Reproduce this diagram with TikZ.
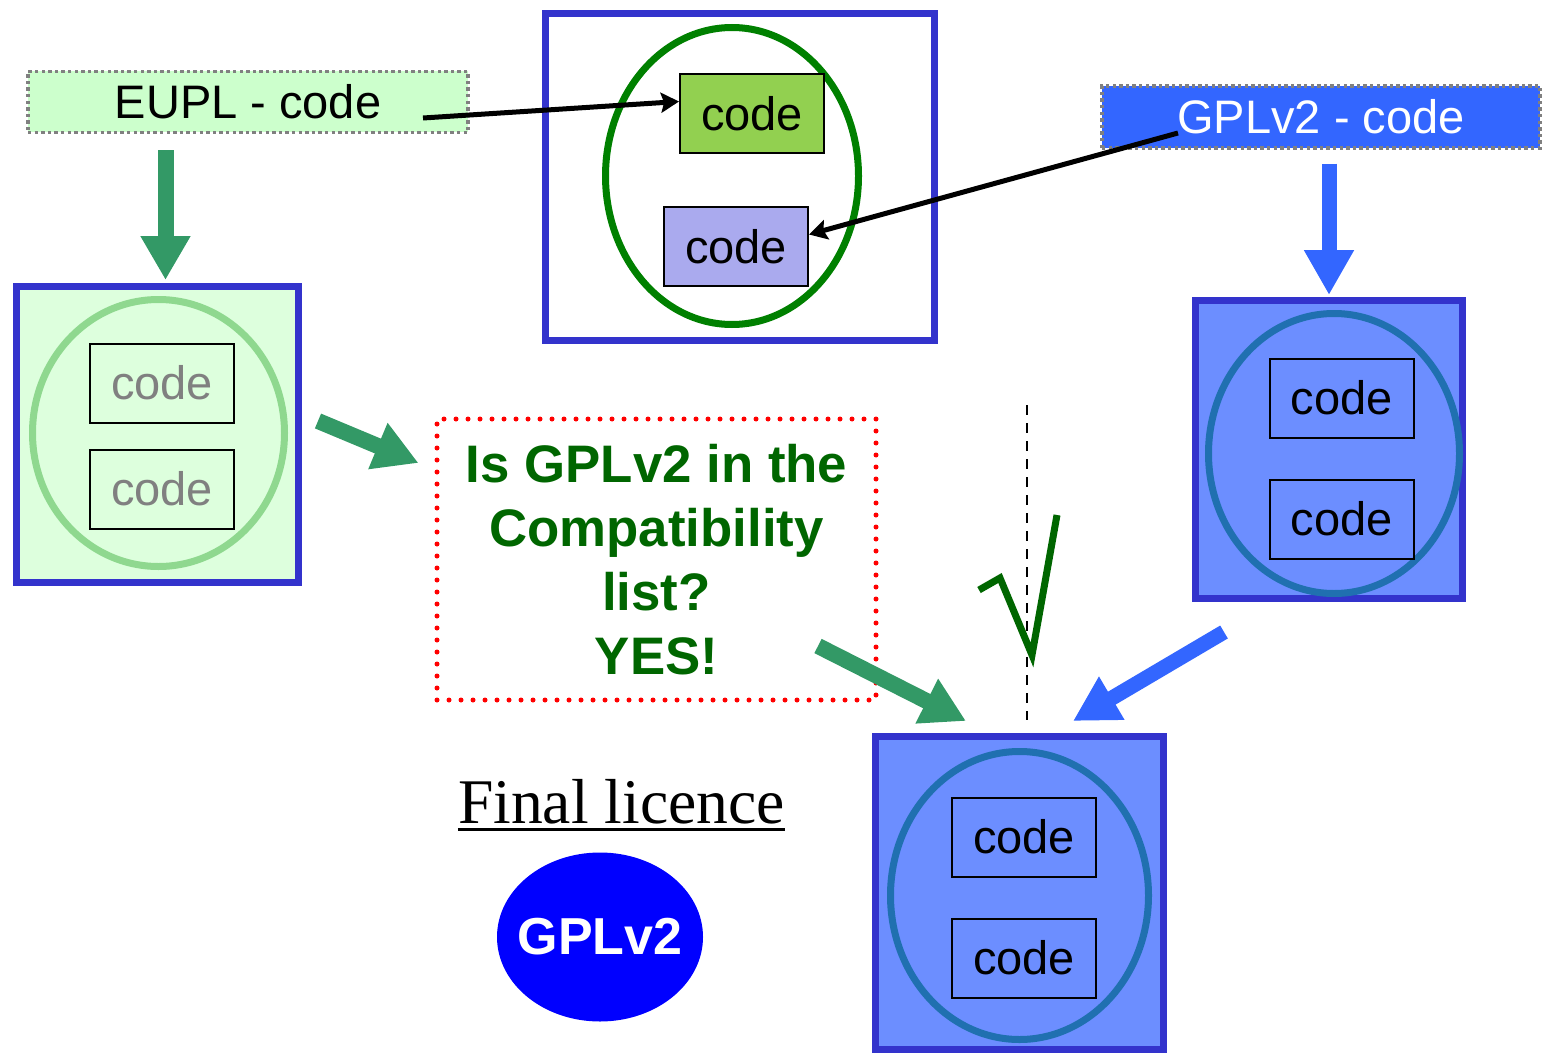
\documentclass[tikz,border=0pt]{standalone}
\usepackage{fontspec}
\setmainfont{Liberation Sans}
\newfontfamily\timesfont{Liberation Serif}
\usetikzlibrary{arrows.meta,shapes.geometric}

\definecolor{frameblue}{HTML}{3333CC}
\definecolor{fillgreen}{HTML}{DDFFDD}
\definecolor{ringlight}{HTML}{8FD88F}
\definecolor{ringgreen}{HTML}{008000}
\definecolor{codegreen}{HTML}{92D050}
\definecolor{codepurple}{HTML}{AAAAEE}
\definecolor{fillblue}{HTML}{6C8EFF}
\definecolor{ringblue}{HTML}{2070B0}
\definecolor{eupllight}{HTML}{CCFFCC}
\definecolor{gplblue}{HTML}{3366FF}
\definecolor{arrowgreen}{HTML}{339966}
\definecolor{textgreen}{HTML}{006600}
\definecolor{pureblue}{HTML}{0000FF}
\definecolor{dotgray}{HTML}{808080}

\begin{document}
\begin{tikzpicture}[x=0.5pt,y=-0.5pt,
    codebox/.style={draw=black,line width=1pt,minimum width=72pt,minimum height=39.5pt,
      inner sep=0pt,font=\fontsize{23.5}{28}\selectfont},
    frame/.style={draw=frameblue,line width=3.5pt,inner sep=0pt},
    ring/.style={ellipse,line width=3.5pt,inner sep=0pt},
    tag/.style={draw=dotgray,line width=1.7pt,dash pattern=on 1.7pt off 1.6pt,
      minimum width=220pt,minimum height=30.5pt,inner sep=0pt,font=\fontsize{23.5}{28}\selectfont},
    ptr/.style={line width=2.5pt,-{Stealth[length=9pt,width=10pt,inset=1.5pt]}},
    gfat/.style={draw=arrowgreen,line width=8pt,-{Triangle[width=23.5pt,length=22pt]}},
    bfat/.style={draw=gplblue,line width=7.5pt,-{Triangle[width=23.5pt,length=22.5pt]}}]

    \useasboundingbox (0,0) rectangle (1542,1054);

    % left: EUPL work
    \node[frame,fill=fillgreen,minimum width=141pt,minimum height=148pt] (lbox) at (157.5,434.5) {};
    \node[ring,draw=ringlight,minimum width=126pt,minimum height=133.5pt] (lring) at (158.5,433) {};
    \node[codebox,text=dotgray] (lcodea) at (162,383) {code};
    \node[codebox,text=dotgray] (lcodeb) at (162,489) {code};

    % top: combined work
    \node[frame,minimum width=194.5pt,minimum height=163.5pt] (mbox) at (740,177) {};
    \node[ring,draw=ringgreen,minimum width=126.5pt,minimum height=148.5pt] (mring) at (732,176) {};
    \node[codebox,fill=codegreen] (codea) at (752,113.5) {code};
    \node[codebox,fill=codepurple] (codeb) at (736,246.5) {code};

    % right: GPLv2 work
    \node[frame,fill=fillblue,minimum width=133.5pt,minimum height=149pt] (rbox) at (1329,449.5) {};
    \node[ring,draw=ringblue,minimum width=125.5pt,minimum height=140pt] (rring) at (1334,453.5) {};
    \node[codebox] (rcodea) at (1341.5,398) {code};
    \node[codebox] (rcodeb) at (1341.5,519) {code};

    % bottom: result
    \node[frame,fill=fillblue,minimum width=144pt,minimum height=156.5pt] (bbox) at (1019.5,893) {};
    \node[ring,draw=ringblue,minimum width=129pt,minimum height=144pt] (bring) at (1019.5,895.5) {};
    \node[codebox] (bcodea) at (1024,837) {code};
    \node[codebox] (bcodeb) at (1024,958) {code};

    % licence tags
    \node[tag,fill=eupllight] (eupl) at (248,102) {EUPL - code};
    \node[tag,fill=gplblue,text=white,minimum width=219pt,minimum height=31pt] (gpl) at (1321,117) {GPLv2 - code};

    % question
    \node[draw=red,line width=2.5pt,line cap=round,dash pattern=on 0pt off 6pt,
      minimum width=219.5pt,minimum height=140.5pt,inner sep=0pt,align=center,
      text=textgreen,font=\fontsize{26.4}{32}\selectfont\bfseries] (qbox) at (656.5,559.5)
      {Is GPLv2 in the\\Compatibility\\list?\\YES!};

    % final licence
    \node[font=\timesfont\fontsize{31.8}{38}\selectfont,inner sep=0pt,anchor=base] (flabel) at (621.5,823) {Final licence};
    \draw[line width=1.5pt] ([yshift=-3pt]flabel.base west) -- ([yshift=-3pt]flabel.base east);
    \node[ellipse,fill=pureblue,minimum width=103pt,minimum height=84.5pt,inner sep=0pt,
      label={[text=white,font=\fontsize{26}{30}\selectfont\bfseries]center:GPLv2}] (final) at (600,937) {};

    % thin arrows into the combined work
    \coordinate (euplend) at (423,118);
    \coordinate (gplend) at (1178,133);
    \draw[ptr] (euplend) -- ([yshift=6pt]codea.west);
    \draw[ptr] (gplend) -- ([yshift=6pt]codeb.east);

    % block arrows
    \draw[gfat] ([xshift=4pt,yshift=-8pt]eupl.south -| lbox.north) -- ([xshift=4pt,yshift=1.5pt]lbox.north);
    \draw[gfat] ([xshift=8pt]lbox.east |- 0,421) -- ([xshift=-8pt]qbox.west |- 0,463);
    \draw[bfat] ([yshift=-7pt]gpl.south -| rbox.north) -- ([yshift=1pt]rbox.north);
    \coordinate (qtail) at (818,646);
    \coordinate (rtail) at (1224,632);
    \draw[gfat] (qtail) -- ([yshift=6pt]bbox.north -| 966,0);
    \draw[bfat] (rtail) -- ([yshift=6pt]bbox.north -| 1073,0);

    % dashed guide and check mark
    \draw[line width=1.2pt,dash pattern=on 5pt off 4pt] (1027,405) -- (1027,720);
    \draw[textgreen,line width=3.5pt] (979,590) -- (1000,578) -- (1032,655) -- (1057,515);

\end{tikzpicture}
\end{document}
